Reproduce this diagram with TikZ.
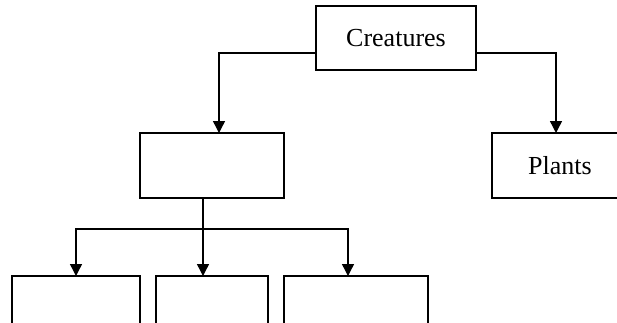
\documentclass[tikz,border=0pt]{standalone}
\usepackage{fontspec}
\setmainfont{Liberation Serif}
\usetikzlibrary{arrows.meta}
\begin{document}
\begin{tikzpicture}[x=1pt,y=-1pt,
  box/.style={draw, line width=1.4pt, inner sep=0pt, outer sep=0pt,
    font=\fontsize{26}{30}\selectfont},
  link/.style={line width=1.4pt},
  arr/.style={link, -{Triangle[width=12pt,length=12pt]}}]
  \useasboundingbox (0,0) rectangle (617,322);
  \clip (0,0) rectangle (617,322);
  % boxes
  \node[box, minimum width=160pt, minimum height=64pt] (cr) at (396,38) {Creatures};
  \node[box, minimum width=144pt, minimum height=65pt] (mid) at (212,165.5) {};
  \node[box, minimum width=136pt, minimum height=65pt] (pl) at (560,165.5) {Plants};
  \node[box, minimum width=128pt, minimum height=80pt] (b1) at (76,316) {};
  \node[box, minimum width=112pt, minimum height=80pt] (b2) at (212,316) {};
  \node[box, minimum width=144pt, minimum height=80pt] (b3) at (356,316) {};
  % connectors from the top box
  \draw[arr] ([yshift=-15pt]cr.west) -| ([xshift=7pt]mid.north);
  \draw[arr] ([yshift=-15pt]cr.east) -| ([xshift=-4pt]pl.north);
  % branching below the middle box
  \draw[link] ([xshift=-9pt]mid.south) -- ++(0,31) coordinate (jn);
  \draw[arr] (jn) -| (b1.north);
  \draw[arr] (jn) -- (jn |- b2.north);
  \draw[arr] (jn) -| ([xshift=-8pt]b3.north);
\end{tikzpicture}
\end{document}
